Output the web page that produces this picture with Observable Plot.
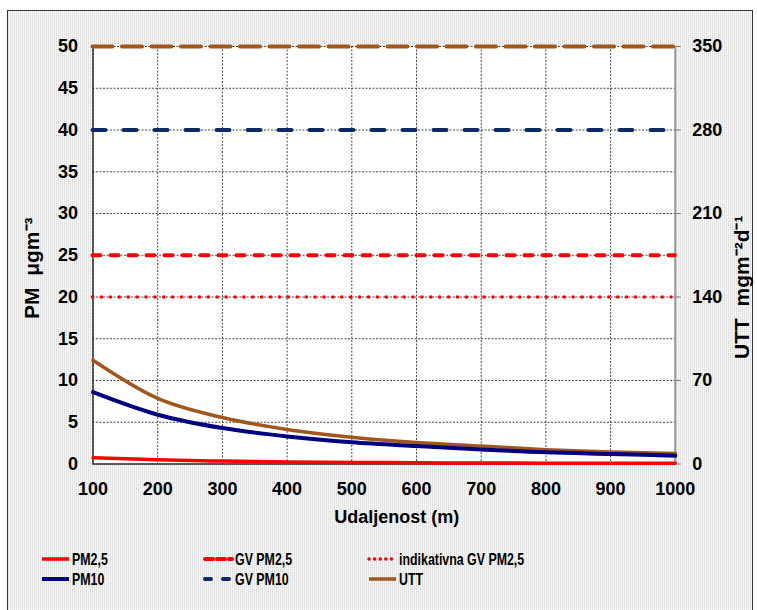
<!DOCTYPE html>
<html><head><meta charset="utf-8">
<script src="https://cdn.jsdelivr.net/npm/d3@7"></script>
<script src="https://cdn.jsdelivr.net/npm/@observablehq/plot@0.6"></script>
<style>
body{margin:0;background:#fff;}
#fig{position:relative;width:757px;height:610px;overflow:hidden;font-family:"Liberation Sans",Arial,sans-serif;}
#border{position:absolute;left:7px;top:10px;width:744px;height:640px;border:1px solid #333;
 background:
  repeating-linear-gradient(0deg, rgba(255,255,255,0.35) 0px, rgba(255,255,255,0.35) 1px, rgba(0,0,0,0) 1px, rgba(0,0,0,0) 2px),
  repeating-linear-gradient(90deg, #dedede 0px, #dedede 1px, #f3f3f3 1px, #f3f3f3 2px);}
#chart{position:absolute;left:0;top:0;}
.leg{position:absolute;display:flex;align-items:center;font-family:"Liberation Sans",Arial,sans-serif;font-weight:bold;font-size:16.5px;color:#000;white-space:nowrap;}
.leg span{display:inline-block;transform:scaleX(0.75);transform-origin:left center;}
.leg svg{margin-right:1px;}
</style>
</head><body>
<div id="fig"><div id="border"></div><div id="chart"></div></div>
<script>
// Data
const distance = [100, 200, 300, 400, 500, 600, 700, 800, 900, 1000];
const pm25 = [0.74, 0.50, 0.35, 0.25, 0.19, 0.15, 0.12, 0.10, 0.09, 0.08];     // µg m-3
const pm10 = [8.6, 5.9, 4.3, 3.3, 2.6, 2.15, 1.75, 1.4, 1.2, 1.0];              // µg m-3
const utt  = [87, 55, 39, 29, 22.5, 18, 15, 12, 10, 8.8];                       // mg m-2 d-1
const limitNames  = ["GV UTT", "GV PM10", "GV PM2,5", "indikativna GV PM2,5"];
const limitValues = [350, 40, 25, 20];   // UTT limit in mg m-2 d-1, others in µg m-3
const xTicks = [100, 200, 300, 400, 500, 600, 700, 800, 900, 1000];
const yTicksLeft = [0, 5, 10, 15, 20, 25, 30, 35, 40, 45, 50];
const yTicksRight = [0, 70, 140, 210, 280, 350];
const legendNames = ["PM2,5", "GV PM2,5", "indikativna GV PM2,5", "PM10", "GV PM10", "UTT"];

const ratio = 350 / 50; // right axis / left axis
const rows = distance.map((d, i) => ({d, pm25: pm25[i], pm10: pm10[i], utt: utt[i]}));

const RED = "#ff0000", NAVY = "#000080", DNAVY = "#0c2a66", BROWN = "#a1561c";
const styles = {
  "PM2,5": {stroke: RED, dash: null, w: 3.5},
  "GV PM2,5": {stroke: RED, dash: "8,10", w: 4},
  "indikativna GV PM2,5": {stroke: RED, dash: "0.1,8.8", w: 3.5},
  "PM10": {stroke: NAVY, dash: null, w: 4},
  "GV PM10": {stroke: DNAVY, dash: "13,18", w: 4},
  "UTT": {stroke: BROWN, dash: null, w: 3.5},
  "GV UTT": {stroke: BROWN, dash: "20,9.5", w: 4}
};
const limitY = (name, v) => name === "GV UTT" ? v / ratio : v;

const W = 757, H = 540;
const font = {fontSize: 18, fontWeight: "bold", fill: "#000"};

const chart = Plot.plot({
  width: W, height: H,
  marginLeft: 92.5, marginRight: 82.2, marginTop: 46, marginBottom: 76.5,
  style: {background: "transparent", fontFamily: "'Liberation Sans', Arial, sans-serif", color: "#000"},
  x: {domain: [100, 1000]},
  y: {domain: [0, 50]},
  marks: [
    Plot.frame({fill: "white", stroke: null}),
    Plot.gridX(xTicks, {stroke: "#333", strokeOpacity: 0.9, strokeDasharray: "2,1.5", strokeWidth: 1}),
    Plot.gridY(yTicksLeft, {stroke: "#333", strokeOpacity: 0.9, strokeDasharray: "2,1.5", strokeWidth: 1}),
    Plot.ruleX([100], {stroke: "#333", strokeWidth: 1.5}),
    Plot.ruleX([1000], {stroke: "#999", strokeWidth: 2}),
    Plot.ruleY([0], {stroke: "#333", strokeWidth: 1.5}),
    ...limitNames.map((n, i) => Plot.ruleY([limitY(n, limitValues[i])], {
      stroke: styles[n].stroke, strokeWidth: styles[n].w, strokeDasharray: styles[n].dash,
      strokeLinecap: "round"
    })),
    Plot.line(rows, {x: "d", y: d => d.utt / ratio, stroke: BROWN, strokeWidth: 3.5, curve: "monotone-x"}),
    Plot.line(rows, {x: "d", y: "pm10", stroke: NAVY, strokeWidth: 4, curve: "monotone-x"}),
    Plot.line(rows, {x: "d", y: "pm25", stroke: RED, strokeWidth: 3.5, curve: "monotone-x"}),
    Plot.axisX(xTicks, {tickSize: 0, tickPadding: 18, tickFormat: d => String(d), label: null, ...font}),
    Plot.axisY(yTicksLeft, {anchor: "left", tickSize: 0, tickPadding: 15, tickFormat: d => String(d), label: null, ...font}),
    Plot.axisY(yTicksRight.map(v => v / ratio), {anchor: "right", tickSize: 5, tickPadding: 12, stroke: "#777",
      tickFormat: d => String(Math.round(d * ratio)), label: null, ...font}),
    Plot.text(["PM  μgm⁻³"], {frameAnchor: "left", textAnchor: "middle", lineAnchor: "middle", dx: -60.5, dy: 13, rotate: -90, fontSize: 21, fontWeight: "bold", fill: "#000"}),
    Plot.text(["UTT  mgm⁻²d⁻¹"], {frameAnchor: "right", textAnchor: "middle", lineAnchor: "middle", dx: 67, dy: 32, rotate: -90, fontSize: 21, fontWeight: "bold", fill: "#000"}),
    Plot.text(["Udaljenost (m)"], {frameAnchor: "bottom", dx: 12.5, dy: 59, fontSize: 18, fontWeight: "bold", fill: "#000"})
  ]
});
document.getElementById("chart").appendChild(chart);

// Legend (below the SVG)
const legPos = {
  "PM2,5": [40, 559], "GV PM2,5": [203, 559], "indikativna GV PM2,5": [367, 559],
  "PM10": [40, 579], "GV PM10": [203, 579], "UTT": [367, 579]
};
const legDash = {"GV PM2,5": "8,4", "indikativna GV PM2,5": "0.1,5.5", "GV PM10": "6,12"};
const fig = document.getElementById("fig");
legendNames.forEach(n => {
  const s = styles[n];
  const [x, y] = legPos[n];
  const div = document.createElement("div");
  div.className = "leg";
  div.style.left = x + "px";
  div.style.top = (y - 10) + "px";
  div.style.height = "20px";
  const dash = legDash[n] || null;
  div.innerHTML = `<svg width="31" height="8"><line x1="2" x2="29" y1="4" y2="4" stroke="${s.stroke}" stroke-width="${s.w}" ${dash ? `stroke-dasharray="${dash}" stroke-linecap="round"` : ""}/></svg><span>${n}</span>`;
  fig.appendChild(div);
});
</script>
</body></html>
